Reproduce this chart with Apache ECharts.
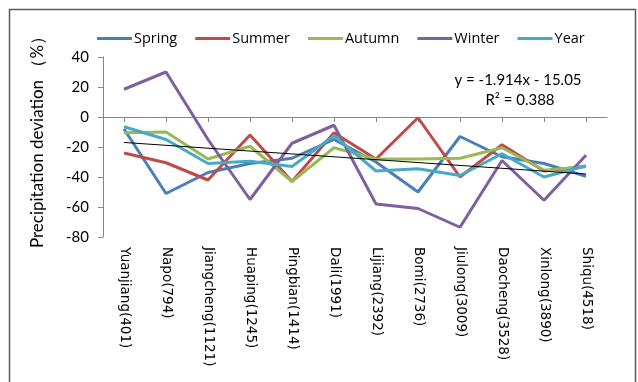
<!DOCTYPE html>
<html>
<head>
<meta charset="utf-8">
<script src="https://cdn.jsdelivr.net/npm/echarts@6/dist/echarts.min.js"></script>
<style>
  html, body { margin: 0; padding: 0; background: #fff; }
  #chart { width: 638px; height: 382px; }
</style>
</head>
<body>
<div id="chart"></div>
<script>
// Stations (elevation in m), ordered from low to high
const stations = ['Yuanjiang(401)', 'Napo(794)', 'Jiangcheng(1121)', 'Huaping(1245)', 'Pingbian(1414)',
  'Dali(1991)', 'Lijiang(2392)', 'Bomi(2736)', 'Jiulong(3009)', 'Daocheng(3528)', 'Xinlong(3890)', 'Shiqu(4518)'];

// Precipitation deviation (%) per season
const spring = [-8, -51, -37, -31, -27.5, -15, -30, -50, -13, -26.5, -31, -39.5];
const summer = [-24, -30.5, -42, -12, -43, -10.5, -28, -0.5, -40, -18.5, -36, -33];
const autumn = [-10.5, -10, -28, -19.5, -43, -20.5, -28, -28, -27.5, -20.5, -35.5, -33];
const winter = [18.5, 30, -15, -55, -17.5, -5.5, -58, -61, -73.5, -29, -55.5, -25.5];
const year = [-6.5, -15, -31, -29.5, -33, -12.5, -36, -34.5, -39, -24.5, -40, -32.5];

// Linear trend (y = slope * x + intercept, x = station index from 1)
const trendCoef = [-1.914, -15.05];
const trendR2 = 0.388;

const yTicks = [-80, -60, -40, -20, 0, 20, 40];

const trend = stations.map((_, i) => +(trendCoef[0] * (i + 1) + trendCoef[1]).toFixed(3));

const seriesDefs = [
  { name: 'Spring', data: spring, color: '#4A7EBB' },
  { name: 'Summer', data: summer, color: '#BE4B48' },
  { name: 'Autumn', data: autumn, color: '#98B954' },
  { name: 'Winter', data: winter, color: '#7D60A0' },
  { name: 'Year', data: year, color: '#46AAC5' }
];

const font = 'Lato, "Open Sans", sans-serif';
const wideFont = '"Open Sans", Lato, sans-serif';
const labelFont = '"DejaVu Sans", "Open Sans", sans-serif';
const chart = echarts.init(document.getElementById('chart'), null, { renderer: 'canvas' });

const series = seriesDefs.map(s => ({
  name: s.name,
  type: 'line',
  data: s.data,
  symbol: 'none',
  lineStyle: { color: s.color, width: 3 },
  itemStyle: { color: s.color },
  z: 2
}));
series.push({
  name: 'Trend',
  type: 'line',
  data: trend,
  symbol: 'none',
  lineStyle: { color: '#000', width: 1 },
  itemStyle: { color: '#000' },
  z: 3,
  silent: true
});

chart.setOption({
  animation: false,
  backgroundColor: '#fff',
  grid: { left: 103, right: 31, top: 57, bottom: 145, containLabel: false },
  legend: {
    data: seriesDefs.map(s => s.name),
    left: 92,
    top: 26,
    icon: 'rect',
    itemWidth: 35,
    itemHeight: 3,
    itemGap: 18,
    textStyle: { fontFamily: wideFont, fontSize: 14.5, color: '#000', padding: [0, 0, 0, -3] }
  },
  xAxis: {
    type: 'category',
    data: stations,
    boundaryGap: true,
    axisLine: { lineStyle: { color: '#868686', width: 1 } },
    axisTick: { show: true, alignWithLabel: true, length: 5, lineStyle: { color: '#868686' } },
    axisLabel: {
      interval: 0,
      rotate: -90,
      margin: 10,
      fontFamily: labelFont,
      fontSize: 13.5,
      color: '#000'
    }
  },
  yAxis: {
    type: 'value',
    min: yTicks[0],
    max: yTicks[yTicks.length - 1],
    interval: 20,
    splitLine: { show: false },
    axisLine: { show: true, lineStyle: { color: '#868686', width: 1 } },
    axisTick: { show: true, length: 5, lineStyle: { color: '#868686' } },
    axisLabel: { fontFamily: font, fontSize: 15, color: '#000', margin: 14 }
  },
  graphic: [
    {
      type: 'rect',
      shape: { x: 9.5, y: 9.5, width: 626, height: 420 },
      style: { fill: 'none', stroke: '#595959', lineWidth: 1.5 },
      silent: true
    },
    {
      type: 'text',
      x: 38, y: 138,
      rotation: Math.PI / 2,
      style: {
        text: 'Precipitation deviation （%）',
        fontFamily: font, fontSize: 17, fill: '#000',
        align: 'center', verticalAlign: 'middle'
      }
    },
    {
      type: 'text',
      x: 518, y: 80,
      style: {
        text: 'y = ' + trendCoef[0] + 'x - ' + Math.abs(trendCoef[1]).toFixed(2),
        fontFamily: font, fontSize: 15, fill: '#000',
        align: 'center', verticalAlign: 'middle'
      }
    },
    {
      type: 'text',
      x: 520, y: 100,
      style: {
        text: 'R² = ' + trendR2,
        fontFamily: font, fontSize: 15, fill: '#000',
        align: 'center', verticalAlign: 'middle'
      }
    }
  ],
  series: series
});
</script>
</body>
</html>
